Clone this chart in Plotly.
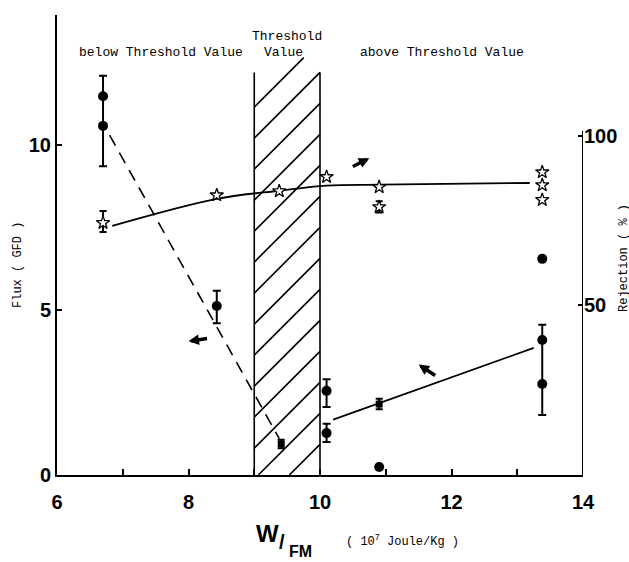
import plotly.graph_objects as go

# ---------------- data ----------------
# Flux (left axis, GFD) - filled circles
FLUX_X = [6.7, 6.7, 8.43, 10.1, 10.1, 10.9, 13.38, 13.38, 13.38]
FLUX_Y = [11.48, 10.58, 5.12, 2.55, 1.27, 0.24, 6.55, 4.09, 2.76]
FLUX_EP = [0.62, 0.0, 0.46, 0.35, 0.28, 0.0, 0.0, 0.46, 0.0]
FLUX_EM = [0.90, 1.22, 0.52, 0.49, 0.27, 0.0, 0.0, 1.33, 0.94]

# Flux - small square markers
SQ_X = [9.41, 10.9]
SQ_Y = [0.94, 2.15]
SQ_E = [0.13, 0.16]

# Rejection (right axis, %) - open stars
STAR_X = [6.7, 8.43, 9.38, 10.1, 10.9, 10.9, 13.38, 13.38, 13.38]
STAR_Y = [74.3, 82.5, 83.7, 87.9, 84.9, 79.0, 89.3, 85.5, 81.1]
STAR_EP = [3.5, 0, 0, 0, 0, 1.7, 0, 0, 0]
STAR_EM = [2.7, 0, 0, 0, 0, 1.6, 0, 0, 0]

# trend lines
DASH_X = [6.8, 9.38]
DASH_Y = [10.3, 1.1]
FIT_X = [10.2, 10.9, 13.25]
FIT_Y = [1.68, 2.18, 3.85]
STAR_LINE_X = [6.84, 8.43, 9.38, 10.1, 10.9, 13.19]
STAR_LINE_Y = [73.4, 81.4, 83.8, 85.3, 85.6, 86.1]

# threshold band
BAND = [9.0, 10.0]
BAND_TOP = 12.2

X_TICKS = [6, 7, 8, 9, 10, 11, 12, 13, 14]
X_TICKTEXT = ["6", "", "8", "", "10", "", "12", "", "14"]
Y_TICKS = [0, 5, 10]
Y2_TICKS = [50, 100]

# ---------------- figure ----------------
W, H = 629, 562
L, R, T, B = 57, 46, 15, 87
XR = [6, 14]
YR = [0, 13.94]
Y2R = [-0.3, 135.8]

def px2paper(px, py):
    return (px - L) / (W - L - R), (H - B - py) / (H - T - B)

fig = go.Figure()

# hatch lines computed from band
xpx_per = (W - L - R) / (XR[1] - XR[0])
ypx_per = (H - T - B) / (YR[1] - YR[0])
slope = xpx_per / ypx_per  # 45 degrees in pixels
spacing = 31 / ypx_per
hx, hy = [], []
b = 11.15
while b + slope * (BAND[1] - BAND[0]) > 0:
    x0, y0 = BAND[0], b
    x1, y1 = BAND[1], b + slope * (BAND[1] - BAND[0])
    top = 12.65
    if y1 > top:
        x1 = BAND[0] + (top - b) / slope
        y1 = top
    if y0 < 0:
        x0 = BAND[0] + (0 - b) / slope
        y0 = 0
    hx += [x0, x1, None]
    hy += [y0, y1, None]
    b -= spacing
for xb in BAND:
    hx += [xb, xb, None]
    hy += [0, BAND_TOP, None]
fig.add_trace(go.Scatter(x=hx, y=hy, mode="lines",
                         line=dict(color="black", width=1.6),
                         hoverinfo="skip", showlegend=False))

# dashed trend (flux)
fig.add_trace(go.Scatter(x=DASH_X, y=DASH_Y, mode="lines",
                         line=dict(color="black", width=1.6, dash="12px,8px"),
                         showlegend=False))
# solid fit (flux)
fig.add_trace(go.Scatter(x=FIT_X, y=FIT_Y, mode="lines",
                         line=dict(color="black", width=1.8), showlegend=False))
# star trend line (rejection)
fig.add_trace(go.Scatter(x=STAR_LINE_X, y=STAR_LINE_Y, yaxis="y2", mode="lines",
                         line=dict(color="black", width=1.8, shape="spline"),
                         showlegend=False))

# circles
fig.add_trace(go.Scatter(x=FLUX_X, y=FLUX_Y, mode="markers",
                         marker=dict(symbol="circle", size=10, color="black"),
                         error_y=dict(type="data", array=FLUX_EP, arrayminus=FLUX_EM,
                                      symmetric=False, color="black", thickness=2, width=4),
                         showlegend=False))
# squares
fig.add_trace(go.Scatter(x=SQ_X, y=SQ_Y, mode="markers",
                         marker=dict(symbol="square", size=7, color="black"),
                         error_y=dict(type="data", array=SQ_E, color="black",
                                      thickness=2, width=3.5),
                         showlegend=False))
# stars
fig.add_trace(go.Scatter(x=STAR_X, y=STAR_Y, yaxis="y2", mode="markers",
                         marker=dict(symbol="star", size=10, color="white",
                                     line=dict(color="black", width=1.3)),
                         error_y=dict(type="data", array=STAR_EP, arrayminus=STAR_EM,
                                      symmetric=False, color="black", thickness=2, width=3.5),
                         showlegend=False))

# right axis line (only up to ~101)
fig.add_shape(type="line", xref="x", yref="y2", x0=XR[1], x1=XR[1], y0=Y2R[0], y1=101.5,
              line=dict(color="black", width=2))

mono = "Liberation Mono"
sans = "Liberation Sans"

def text(s, px, py, size=13, family=mono, angle=0, bold=False):
    xp, yp = px2paper(px, py)
    fig.add_annotation(xref="paper", yref="paper", x=xp, y=yp, text=s,
                       showarrow=False, textangle=angle,
                       font=dict(family=family, size=size, color="black",
                                 weight="bold" if bold else "normal"),
                       xanchor="center", yanchor="middle")

text("below Threshold Value", 161, 53)
text("Threshold", 287, 37)
text("Value", 283, 53)
text("above Threshold Value", 442, 53)
text("Flux ( GFD )", 18, 265, size=12, angle=-90)
text("Rejection ( % )", 624, 258, size=12, angle=-90)
text("W", 267, 533, size=24, family=sans, bold=True)
text("/", 282, 542, size=20, family=sans, bold=True)
text("FM", 300, 551, size=16, family=sans, bold=True)
text("( 10<sup>7</sup> Joule/Kg )", 402, 541, size=12)

# arrows (head position, tail offset in px)
ARROWS = [(8.0, 4.05, 20, -3), (10.75, 9.6, -18, 9), (11.5, 3.35, 18, 12)]
for ax_, ay_, dx, dy in ARROWS:
    fig.add_annotation(x=ax_, y=ay_, xref="x", yref="y", ax=dx, ay=dy, text="",
                       showarrow=True, arrowhead=2, arrowwidth=3.5, arrowsize=0.6,
                       arrowcolor="black")

tickfont = dict(family=sans, size=20, color="black", weight="bold")
fig.update_layout(
    width=W, height=H, autosize=False,
    margin=dict(l=L, r=R, t=T, b=B),
    paper_bgcolor="white", plot_bgcolor="white",
    xaxis=dict(range=XR, showgrid=False, zeroline=False, showline=True,
               linecolor="black", linewidth=2, ticks="inside", ticklen=6,
               tickwidth=1.5, tickcolor="black", tickvals=X_TICKS,
               ticktext=X_TICKTEXT, tickfont=tickfont, ticklabelstandoff=8),
    yaxis=dict(range=YR, showgrid=False, zeroline=False, showline=True,
               linecolor="black", linewidth=2, ticks="inside", ticklen=5,
               tickwidth=1.5, tickcolor="black", tickvals=Y_TICKS,
               tickfont=tickfont),
    yaxis2=dict(range=Y2R, overlaying="y", side="right", showgrid=False,
                zeroline=False, showline=False, ticks="inside", ticklen=5,
                tickwidth=1.5, tickcolor="black", tickvals=Y2_TICKS,
                tickfont=tickfont),
)

fig.write_html("out.html")
